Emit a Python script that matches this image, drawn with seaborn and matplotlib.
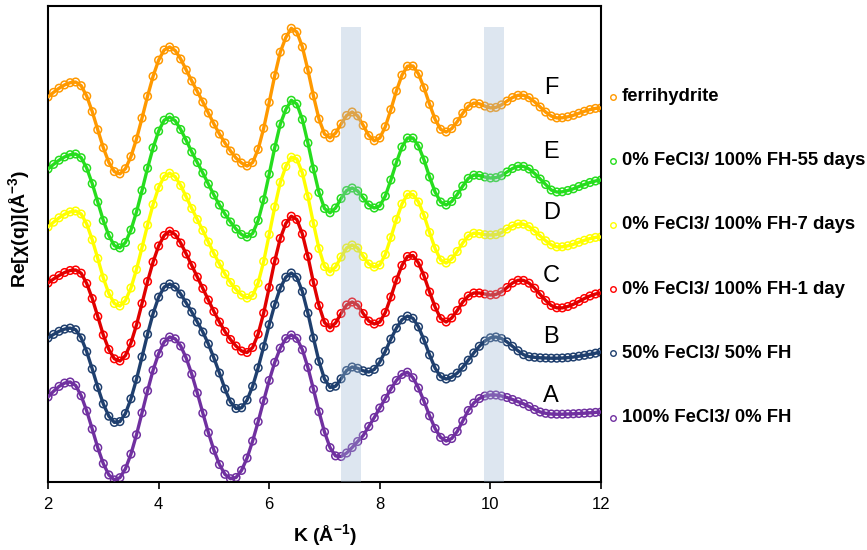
import numpy as np
import pandas as pd
import matplotlib
matplotlib.use("Agg")
import matplotlib.pyplot as plt
import seaborn as sns

# k grid of the EXAFS spectra (Å^-1)
k = np.linspace(2.0, 12.0, 101)

# Re[chi(q)] of each sample (arbitrary units, before vertical stacking)
chi_ferrihydrite = [
    11, 15.6, 19.8, 23.1, 25.3, 26, 22.3, 11.9, -3.6, -21.8,
    -39.7, -54.4, -63.6, -65.9, -60.7, -48.6, -31.1, -10.1, 11.7, 31.7,
    47.8, 58, 61, 57.5, 49, 38, 27, 16.5, 6, -5,
    -16, -26, -35, -43, -50, -55, -58, -54.6, -41.4, -20.3,
    5.6, 32.4, 55.8, 70.5, 79.7, 76, 61, 37.9, 12.1, -11,
    -26, -29.8, -25.1, -16, -7.5, -4, -7.9, -17.4, -27.5, -32.8,
    -30, -18.7, -1.6, 17, 32.8, 41.8, 42, 34, 20.2, 3.7,
    -11.3, -21.3, -24, -20.6, -13.7, -5.3, 1.6, 4.9, 4.2, 1.9,
    0.1, 0.6, 3.1, 6.9, 10.5, 12.7, 12.7, 10.3, 6.1, 1,
    -4.1, -8, -9.9, -9.8, -8.8, -7.3, -5.3, -3.3, -1.6, -0.4,
    0,
]
chi_fh_55d = [
    11, 15.6, 19.8, 23.1, 25.3, 26, 22.3, 11.9, -3.6, -22,
    -40.5, -55.5, -65.6, -67.9, -62.5, -50, -32, -10.5, 11.8, 32.2,
    48.8, 59.8, 62.8, 59.3, 50.5, 39.5, 28, 17.5, 7, -4,
    -15, -25, -34, -42, -49, -54.5, -57, -53.5, -40.5, -19.8,
    5.8, 32.4, 55.8, 70.5, 79.7, 76, 60.5, 37, 11, -12.5,
    -28.5, -32.8, -28, -18.5, -10.5, -8, -11, -18, -25, -28,
    -26, -16, 0, 17.5, 33, 42, 42, 34, 20, 3,
    -12, -22, -25, -21.5, -14.5, -6, 1.6, 4.9, 4.5, 3,
    2, 2.4, 4.3, 8, 11.5, 13.7, 13.6, 11, 6.5, 1,
    -4.5, -10, -12, -11.8, -10.5, -8.8, -6.5, -4.5, -2.5, -1,
    0,
]
chi_fh_7d = [
    10, 14.8, 19.2, 22.7, 25.1, 26, 23, 13, -2.8, -21.5,
    -41, -56.5, -66.5, -69, -63.5, -51, -32.5, -10.5, 12, 32.5,
    49.5, 60.5, 63.8, 60.3, 51.5, 40, 28.5, 17.5, 6.5, -5,
    -16.5, -27, -37, -45.5, -52.5, -58, -61, -58.5, -46, -24.5,
    2.5, 30, 54.5, 70.5, 79.8, 78, 64, 40.5, 13.5, -11.5,
    -29.5, -34.8, -30, -20, -11, -8, -11, -19.5, -27, -30,
    -28, -17.5, -0.5, 17.5, 33, 42.5, 42.5, 35, 21.5, 4.5,
    -11.5, -23, -26, -22, -14.5, -6, 1, 3.8, 3.3, 2.3,
    2, 2.4, 4.3, 8, 11, 13, 12.8, 10.3, 6, 1,
    -3.8, -7.8, -9.9, -9.8, -8.8, -7.3, -5.3, -3.3, -1.6, -0.4,
    0,
]
chi_fh_1d = [
    10, 14, 17.5, 20.5, 22.5, 23, 19.8, 9.5, -5.5, -23.5,
    -42, -56.5, -65.8, -68, -62.5, -50, -32, -10.5, 11.5, 31,
    47, 57.5, 61.8, 58.5, 50, 39, 27.5, 16, 4.5, -7,
    -18.5, -29, -38.5, -46.5, -53, -58, -59.5, -54.5, -41, -20,
    5.5, 32, 54.5, 69.5, 76.8, 73.5, 59, 36.5, 10.5, -12.5,
    -29.5, -34.8, -30, -20.5, -12, -9, -12, -20.5, -28, -31,
    -29, -19.5, -4, 13, 27.5, 36.5, 37.5, 30, 17, 1,
    -14, -25.5, -29, -25, -17.5, -9, -3, 0, 0, -1,
    -2, -1.4, 1.2, 5.5, 10, 12.7, 12.6, 9.8, 4.8, -1.5,
    -7.5, -12.5, -14.8, -14.9, -13.5, -11.3, -8.5, -5.5, -3, -1,
    0,
]
chi_50_50 = [
    14, 17.6, 20.7, 22.9, 23.9, 22.3, 14.1, 0.3, -17, -35.3,
    -51.9, -64.2, -70.4, -69.6, -61.5, -46.8, -27.3, -4.9, 17.8, 38.4,
    54.8, 64.9, 68, 65, 58, 49, 40, 30, 20, 8,
    -6, -21, -37, -50, -56.5, -55.8, -48, -34.3, -15.8, 5.4,
    27.3, 47.4, 63.9, 74.8, 79, 74.6, 60.4, 38.8, 14, -9.4,
    -27, -35.5, -34.2, -26.8, -18.5, -15, -16.3, -18.8, -20, -17.4,
    -10, 0.8, 12.9, 23.9, 32.2, 35.9, 33.7, 25.1, 11.9, -2.9,
    -16.1, -24.7, -27, -25.2, -21.1, -15.2, -8.2, -0.9, 5.7, 11,
    14.2, 15, 13.5, 10.1, 5.7, 1.2, -2.7, -4.7, -5.3, -5.8,
    -6, -6.2, -6.2, -6, -5.6, -5, -4.2, -3.3, -2.3, -1.2,
    0,
]
chi_100_0 = [
    15, 20.7, 25.6, 28.9, 30, 26.5, 16.3, 1, -17.1, -35.7,
    -51.6, -62.9, -67.9, -65.7, -56.8, -42.1, -22.8, -0.9, 21.2, 41.8,
    58.3, 70, 75, 73.2, 66, 53.8, 37.8, 19, -1.1, -20.6,
    -38.2, -52.5, -62.3, -66.7, -65.5, -58.4, -46, -29.1, -9.7, 11.3,
    31.5, 49.6, 63.8, 73.4, 77, 73.6, 62.2, 44.5, 22.8, 0.3,
    -20, -35.6, -43.9, -44.5, -41, -35.5, -29.5, -23.5, -14.5, -5.5,
    4, 13.5, 23, 31.5, 37.5, 39.8, 34.3, 24, 10.6, -3.8,
    -16.5, -25.4, -29, -26.5, -19.5, -9, 1.5, 9, 13.5, 16,
    17, 17, 16, 14.5, 12.5, 10.3, 8.2, 5.5, 2.5, 0,
    -1.3, -2, -2.2, -2.2, -2, -1.8, -1.5, -1.2, -0.8, -0.4,
    0,
]

sample_labels = [
    "ferrihydrite",
    "0% FeCl3/ 100% FH-55 days",
    "0% FeCl3/ 100% FH-7 days",
    "0% FeCl3/ 100% FH-1 day",
    "50% FeCl3/ 50% FH",
    "100% FeCl3/ 0% FH",
]
panel_letters = ["F", "E", "D", "C", "B", "A"]
stack_offsets = [374, 302, 245, 189, 130, 70]
spectra = [chi_ferrihydrite, chi_fh_55d, chi_fh_7d, chi_fh_1d, chi_50_50, chi_100_0]

# highlighted k windows
bands = [(7.30, 7.66), (9.88, 10.25)]

# styling
marker_colors = ["#FF9900", "#26DD1E", "#FFFF00", "#FF0000", "#1F3F6E", "#7030A0"]
line_colors = ["#FF9900", "#26DD1E", "#FFFF00", "#E00000", "#1F3F6E", "#7030A0"]
letter_heights = [394, 330, 269, 206, 145, 86]
legend_rows_px = [96.7, 160.7, 224.5, 289, 353.3, 417.5]

frames = []
for lab, chi, off in zip(sample_labels, spectra, stack_offsets):
    frames.append(pd.DataFrame({"k": k, "chi": chi, "sample": lab,
                                "y": np.asarray(chi) + off}))
df = pd.concat(frames, ignore_index=True)

sns.set_theme(style="white")
plt.rcParams["font.family"] = ["Liberation Sans", "DejaVu Sans"]
plt.rcParams["mathtext.fontset"] = "custom"
plt.rcParams["mathtext.rm"] = "Liberation Sans"
plt.rcParams["mathtext.bf"] = "Liberation Sans:bold"

W, H = 867, 550
fig = plt.figure(figsize=(W / 100, H / 100), dpi=100)
ax = fig.add_axes([48 / W, (H - 482) / H, 553 / W, 476 / H])

# measured points: open circles
for lab, mc in zip(sample_labels, marker_colors):
    d = df[df["sample"] == lab]
    sns.scatterplot(data=d, x="k", y="y", ax=ax, marker="o", s=30,
                    color=mc, facecolor="none", edgecolor=mc,
                    linewidth=1.1, legend=False, zorder=2)

# fitted curves
for lab, lc in zip(sample_labels, line_colors):
    d = df[df["sample"] == lab]
    sns.lineplot(data=d, x="k", y="y", ax=ax, color=lc, linewidth=2.4,
                 estimator=None, legend=False, zorder=3)

for lo, hi in bands:
    ax.axvspan(lo, hi, ymin=0, ymax=455 / 476, color="#9EB8D4",
               alpha=0.35, lw=0, zorder=4)

for letter, yh in zip(panel_letters, letter_heights):
    ax.text(11.1, yh, letter, fontsize=17, ha="center", va="center",
            color="black", zorder=5)

ax.set_xlim(2, 12)
ax.set_ylim(0, 476)
ax.set_xticks([2, 4, 6, 8, 10, 12])
ax.set_yticks([])
ax.tick_params(axis="x", direction="out", length=5, width=1.2,
               labelsize=12, pad=6, colors="black", bottom=True)
for sp in ax.spines.values():
    sp.set_visible(True)
    sp.set_color("black")
    sp.set_linewidth(1.5)

ax.set_xlabel(r"K (Å$^{\mathbf{-1}}$)", fontsize=14, fontweight="bold",
              color="black")
ax.xaxis.set_label_coords(0.5, -0.085)
ax.set_ylabel(r"Re[χ(q)](Å$^{\mathbf{-3}}$)", fontsize=14,
              fontweight="bold", color="black")
ax.yaxis.set_label_coords(-0.028, 0.532)

# sample key to the right of the plot
for lab, mc, ry in zip(sample_labels, marker_colors, legend_rows_px):
    fy = 1 - ry / H
    ax.plot([612.5 / W], [fy], transform=fig.transFigure, clip_on=False,
            marker="o", ms=4, mfc="none", mec=mc, mew=1.0, ls="none")
    fig.text(622 / W, fy, lab, fontsize=13.3, fontweight="bold",
             ha="left", va="center", color="black")

fig.savefig("out.png", dpi=100)
